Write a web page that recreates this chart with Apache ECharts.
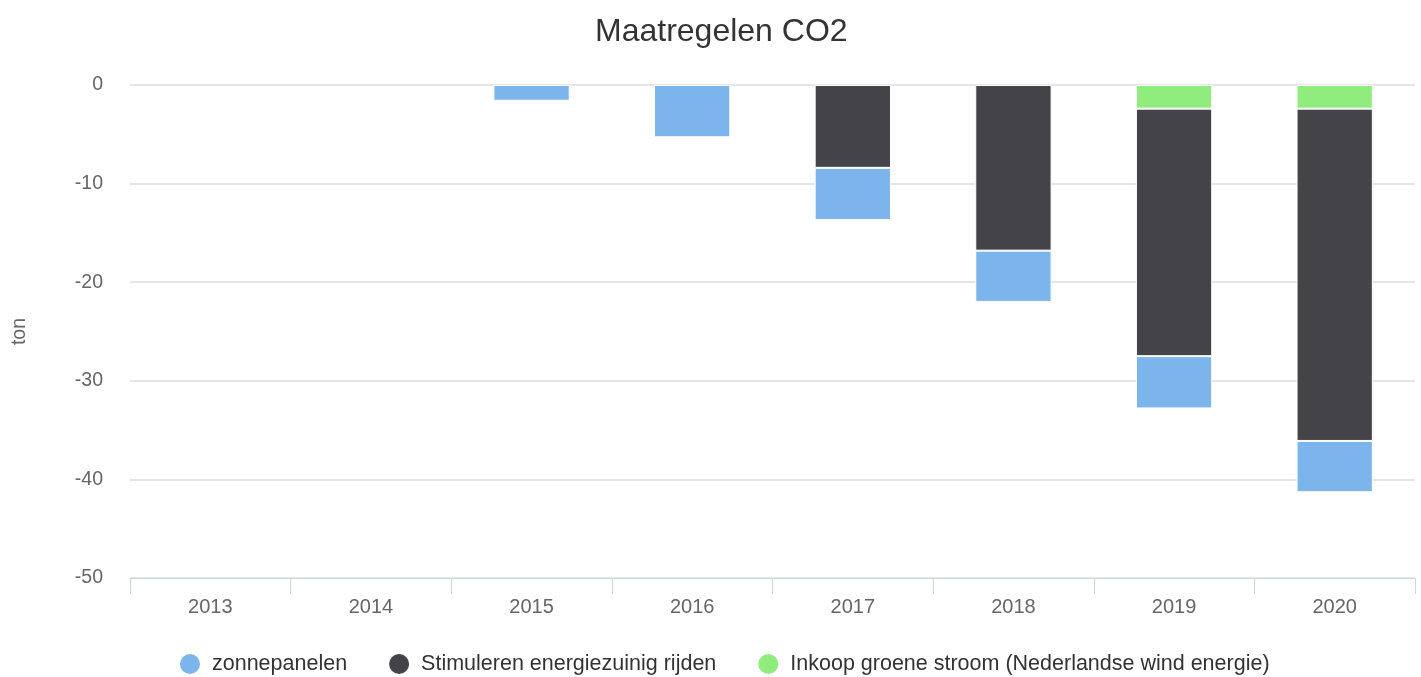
<!DOCTYPE html>
<html><head><meta charset="utf-8">
<script src="https://cdn.jsdelivr.net/npm/echarts@6/dist/echarts.min.js"></script>
<style>html,body{margin:0;padding:0;background:#fff}#c{width:1421px;height:677px}</style>
</head><body><div id="c"></div>
<script>
var categories = ['2013','2014','2015','2016','2017','2018','2019','2020'];
var zonnepanelen = [null, null, -1.6, -5.3, -5.3, -5.2, -5.3, -5.2];
var stimuleren = [null, null, null, null, -8.4, -16.8, -25.1, -33.7];
var inkoop = [null, null, null, null, null, null, -2.4, -2.4];
var yTicks = [0, -10, -20, -30, -40, -50];

var font = 'Liberation Sans, Arial, sans-serif';
var chart = echarts.init(document.getElementById('c'));
function bar(name, data, color) {
  return {
    name: name, type: 'bar', stack: 'total', data: data, barWidth: '47.5%',
    itemStyle: { color: color, borderColor: '#ffffff', borderWidth: 1 },
    emphasis: { disabled: true }
  };
}
chart.setOption({
  animation: false,
  title: { text: 'Maatregelen CO2', left: 590, top: 11,
    textStyle: { fontFamily: font, fontSize: 32, fontWeight: 'normal', color: '#333333' } },
  grid: { left: 130, right: 6, top: 85, bottom: 99 },
  legend: {
    data: ['zonnepanelen', 'Stimuleren energiezuinig rijden', 'Inkoop groene stroom (Nederlandse wind energie)'],
    top: 647, left: 173, icon: 'circle', itemWidth: 22, itemHeight: 22, itemGap: 40,
    textStyle: { fontFamily: font, fontSize: 21.5, color: '#333333', padding: [0, 0, 0, 6] }
  },
  xAxis: {
    type: 'category', data: categories,
    axisLine: { onZero: false, lineStyle: { color: '#ccd6eb', width: 1 } },
    axisTick: { show: true, length: 16, lineStyle: { color: '#ccd6eb' } },
    axisLabel: { fontFamily: font, fontSize: 20, color: '#666666', margin: 19 }
  },
  yAxis: {
    type: 'value', min: -50, max: 0, interval: 10,
    name: 'ton', nameLocation: 'middle', nameGap: 100, nameRotate: 90,
    nameTextStyle: { fontFamily: font, fontSize: 19.5, color: '#666666' },
    axisLine: { show: false }, axisTick: { show: false },
    axisLabel: { fontFamily: font, fontSize: 19.5, color: '#666666', margin: 27 },
    splitLine: { lineStyle: { color: '#e6e6e6', width: 2 } }
  },
  series: [
    bar('Inkoop groene stroom (Nederlandse wind energie)', inkoop, '#90ed7d'),
    bar('Stimuleren energiezuinig rijden', stimuleren, '#434348'),
    bar('zonnepanelen', zonnepanelen, '#7cb5ec')
  ]
});
</script></body></html>
